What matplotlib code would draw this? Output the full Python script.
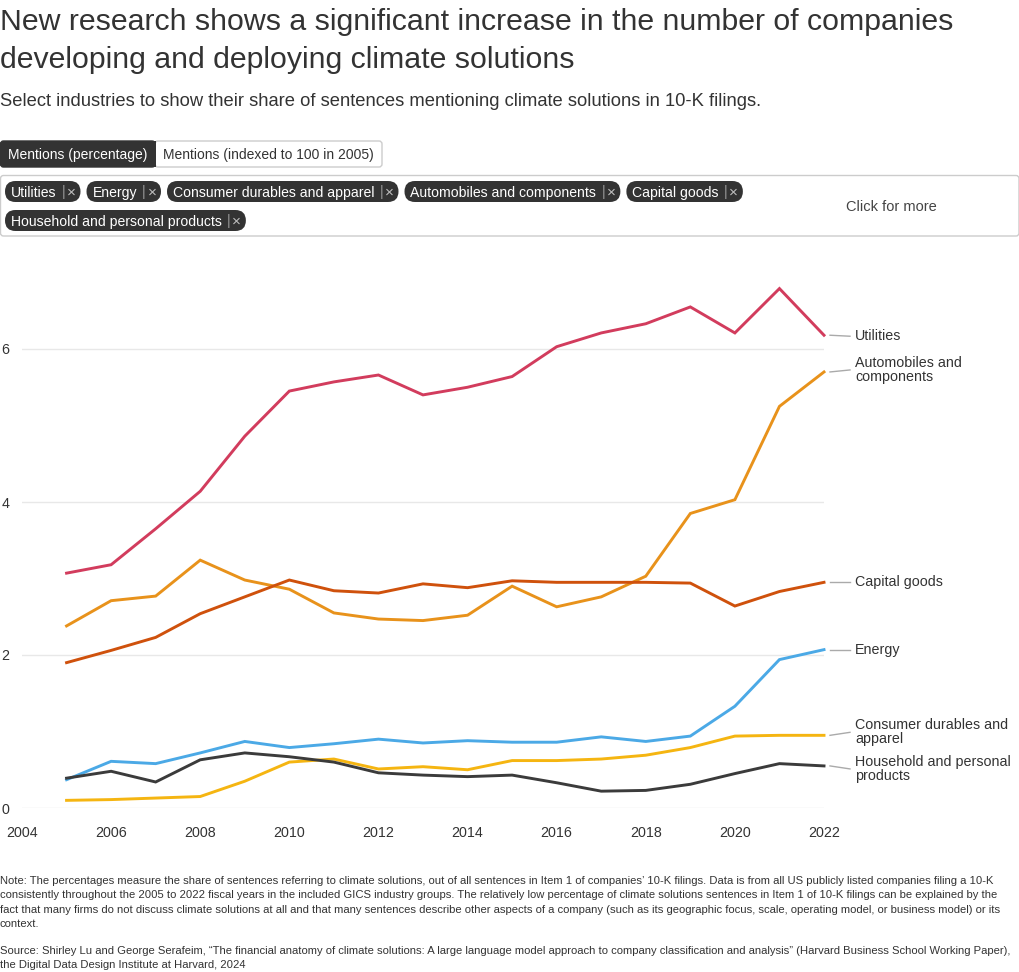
import matplotlib
matplotlib.use("Agg")
import matplotlib.pyplot as plt
from matplotlib.patches import FancyBboxPatch

plt.rcParams['font.family'] = ['Liberation Sans', 'DejaVu Sans']

# ---------------- data ----------------
years = list(range(2005, 2023))
utilities = [3.07, 3.18, 3.65, 4.14, 4.86, 5.45, 5.57, 5.66, 5.40, 5.50, 5.64, 6.03,
             6.21, 6.33, 6.55, 6.21, 6.79, 6.18]
automobiles = [2.38, 2.71, 2.77, 3.24, 2.98, 2.86, 2.55, 2.47, 2.45, 2.52, 2.90, 2.63,
               2.76, 3.03, 3.85, 4.03, 5.25, 5.70]
capital_goods = [1.90, 2.06, 2.23, 2.54, 2.76, 2.98, 2.84, 2.81, 2.93, 2.88, 2.97, 2.95,
                 2.95, 2.95, 2.94, 2.64, 2.83, 2.95]
energy = [0.37, 0.61, 0.58, 0.72, 0.87, 0.79, 0.84, 0.90, 0.85, 0.88, 0.86, 0.86,
          0.93, 0.87, 0.94, 1.33, 1.94, 2.07]
consumer = [0.10, 0.11, 0.13, 0.15, 0.35, 0.60, 0.64, 0.51, 0.54, 0.50, 0.62, 0.62,
            0.64, 0.69, 0.79, 0.94, 0.95, 0.95]
household = [0.39, 0.48, 0.34, 0.63, 0.72, 0.67, 0.60, 0.46, 0.43, 0.41, 0.43, 0.33,
             0.22, 0.23, 0.31, 0.45, 0.58, 0.55]

series_names = ["Utilities", "Automobiles and\ncomponents", "Capital goods", "Energy",
                "Consumer durables and\napparel", "Household and personal\nproducts"]
series_values = [utilities, automobiles, capital_goods, energy, consumer, household]
series_colors = ["#d23c5d", "#e8921b", "#cf510c", "#4ba9e6", "#f5b511", "#3b3b3b"]
label_dy = [1, -2, 0, 0, -3, 3]   # pixel nudges of end labels

chips = ["Utilities", "Energy", "Consumer durables and apparel",
         "Automobiles and components", "Capital goods",
         "Household and personal products"]

x_ticks = [2004, 2006, 2008, 2010, 2012, 2014, 2016, 2018, 2020, 2022]
y_ticks = [0, 2, 4, 6]

title_lines = ["New research shows a significant increase in the number of companies",
               "developing and deploying climate solutions"]
subtitle = "Select industries to show their share of sentences mentioning climate solutions in 10-K filings."
note_lines = [
    "Note: The percentages measure the share of sentences referring to climate solutions, out of all sentences in Item 1 of companies’ 10-K filings. Data is from all US publicly listed companies filing a 10-K",
    "consistently throughout the 2005 to 2022 fiscal years in the included GICS industry groups. The relatively low percentage of climate solutions sentences in Item 1 of 10-K filings can be explained by the",
    "fact that many firms do not discuss climate solutions at all and that many sentences describe other aspects of a company (such as its geographic focus, scale, operating model, or business model) or its",
    "context.",
]
source_lines = [
    "Source: Shirley Lu and George Serafeim, “The financial anatomy of climate solutions: A large language model approach to company classification and analysis” (Harvard Business School Working Paper),",
    "the Digital Data Design Institute at Harvard, 2024",
]

# ---------------- figure ----------------
W, H = 1020, 972
fig = plt.figure(figsize=(W / 100, H / 100), dpi=100)
fig.patch.set_facecolor("white")

ov = fig.add_axes([0, 0, 1, 1])
ov.set_xlim(0, W)
ov.set_ylim(H, 0)
ov.axis("off")

TXT = "#333333"
ov.text(0, 21.5, title_lines[0], fontsize=21.8, color=TXT, va="center", ha="left")
ov.text(0, 60.5, title_lines[1], fontsize=21.8, color=TXT, va="center", ha="left")
ov.text(0, 102, subtitle, fontsize=13.2, color=TXT, va="center", ha="left")

# toggle buttons
ov.add_patch(FancyBboxPatch((0.5, 141), 154.5, 26, boxstyle="round,pad=0,rounding_size=3",
                            fc="#333333", ec="#333333", lw=1))
ov.add_patch(FancyBboxPatch((155, 141), 227, 26, boxstyle="round,pad=0,rounding_size=3",
                            fc="white", ec="#cccccc", lw=1))
ov.add_patch(plt.Rectangle((150, 141), 6, 26, fc="#333333", ec="none"))
ov.text(77.5, 154.5, "Mentions (percentage)", fontsize=10, color="white", ha="center", va="center")
ov.text(268.5, 154.5, "Mentions (indexed to 100 in 2005)", fontsize=10, color=TXT, ha="center", va="center")

# chip container
ov.add_patch(FancyBboxPatch((0.5, 175.5), 1018.5, 60.5, boxstyle="round,pad=0,rounding_size=3",
                            fc="white", ec="#cccccc", lw=1))
ov.text(891, 207, "Click for more", fontsize=10.5, color="#444444", ha="center", va="center")

fig.canvas.draw()
renderer = fig.canvas.get_renderer()
row_centers = [191.5, 220.5]
row = 0
cx = 5
for name in chips:
    t = ov.text(0, 0, name, fontsize=10.1, color="white", ha="left", va="center", zorder=4)
    tw = t.get_window_extent(renderer).width
    chip_w = 6 + tw + 24
    if cx + chip_w > 760:
        row += 1
        cx = 5
    cy = row_centers[row]
    ov.add_patch(FancyBboxPatch((cx, cy - 10.5), chip_w, 21,
                                boxstyle="round,pad=0,rounding_size=10.5",
                                fc="#333333", ec="none", zorder=3))
    t.set_position((cx + 6, cy + 1))
    ov.text(cx + 6 + tw + 7, cy + 0.5, "|", fontsize=10.5, color="#9a9a9a", ha="center", va="center", zorder=4)
    ov.text(cx + 6 + tw + 15, cy + 1.5, "\u00d7", fontsize=11, color="#c0c0c0", ha="center", va="center", zorder=4)
    cx += chip_w + 6

# ---------------- chart ----------------
left, right = 22 / W, 824 / W
y0_px, per_unit = 808, 76.5
ymax = 7.2
top_px = y0_px - ymax * per_unit
ax = fig.add_axes([left, 1 - y0_px / H, right - left, (y0_px - top_px) / H])
ax.set_xlim(2004, 2022)
ax.set_ylim(0, ymax)
for s in ax.spines.values():
    s.set_visible(False)
ax.set_facecolor("none")
ax.set_yticks(y_ticks)
ax.set_yticklabels([str(v) for v in y_ticks])
ax.set_xticks(x_ticks)
ax.set_xticklabels([str(v) for v in x_ticks])
ax.tick_params(axis="both", length=0, labelsize=10.3, colors=TXT)
for lab in ax.get_yticklabels():
    lab.set_horizontalalignment("left")
ax.yaxis.set_tick_params(pad=15)
ax.tick_params(axis="x", pad=13)
ax.grid(axis="y", color="#e8e8e8", lw=1)
ax.grid(axis="x", visible=False)
ax.set_axisbelow(True)

for vals, col in zip(series_values, series_colors):
    ax.plot(years, vals, color=col, lw=2.1, solid_joinstyle="miter", clip_on=False, zorder=3)

fig.canvas.draw()
for name, vals, col, dy in zip(series_names, series_values, series_colors, label_dy):
    xd, yd = ax.transData.transform((years[-1], vals[-1]))
    yp = H - yd
    ov.plot([830, 850], [yp, yp + dy], color="#aaaaaa", lw=1)
    ov.text(855, yp + dy, name, fontsize=10.3, color=TXT, ha="left", va="center", linespacing=1.0)

# footnotes
for i, line in enumerate(note_lines):
    ov.text(0, 881 + i * 14.4, line, fontsize=8.15, color=TXT, ha="left", va="center")
for i, line in enumerate(source_lines):
    ov.text(0, 951 + i * 14.4, line, fontsize=8.15, color=TXT, ha="left", va="center")

fig.savefig("out.png", dpi=100, facecolor="white")
